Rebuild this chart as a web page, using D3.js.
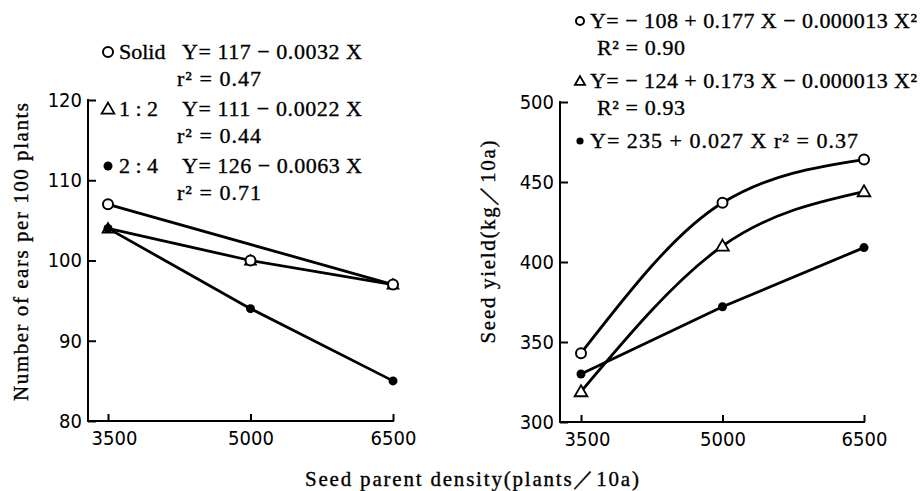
<!DOCTYPE html>
<html>
<head>
<meta charset="utf-8">
<script src="https://cdn.jsdelivr.net/npm/d3@7"></script>
<style>
  body { margin: 0; background: #fff; }
  text { fill: #000; }
</style>
</head>
<body>
<div id="root"></div>
<script>
// seed parent density (plants / 10a)
const density = [3500, 5000, 6500];

// left panel: number of ears per 100 plants
const earsSolid = [107, 100, 97];
const ears12 = [104, 100, 97];
const ears24 = [104, 94, 85];
const earsTicks = [80, 90, 100, 110, 120];

// right panel: seed yield (kg / 10a)
const yieldSolid = [343, 437, 464];
const yield12 = [319, 410, 444];
const yield24 = [330, 372, 409];
const yieldTicks = [300, 350, 400, 450, 500];

// legend texts
const earsLegend = [
  { mark: "open", name: "Solid", eq: "Y= 117 − 0.0032 X", fit: "r² = 0.47" },
  { mark: "tri", name: "1 : 2", eq: "Y= 111 − 0.0022 X", fit: "r² = 0.44" },
  { mark: "dot", name: "2 : 4", eq: "Y= 126 − 0.0063 X", fit: "r² = 0.71" },
];
const yieldLegend = [
  { mark: "open", eq: "Y=  − 108 + 0.177 X − 0.000013 X²", fit: "R² = 0.90" },
  { mark: "tri", eq: "Y=  − 124 + 0.173 X − 0.000013 X²", fit: "R² = 0.93" },
  { mark: "dot", eq: "Y=  235 + 0.027 X   r² = 0.37", fit: "" },
];

const width = 923;
const height = 491;
const tickFont = "'DejaVu Sans Condensed', 'Liberation Sans', sans-serif";
const serif = "'Liberation Serif', 'DejaVu Serif', serif";

const svg = d3
  .select("#root")
  .append("svg")
  .attr("width", width)
  .attr("height", height)
  .attr("viewBox", `0 0 ${width} ${height}`);

function drawMark(g, type, x, y, s = 1) {
  if (type === "open") {
    g.append("circle")
      .attr("cx", x).attr("cy", y).attr("r", 5 * s)
      .attr("fill", "#fff").attr("stroke", "#000").attr("stroke-width", 2);
  } else if (type === "dot") {
    g.append("circle")
      .attr("cx", x).attr("cy", y).attr("r", 4.5 * s)
      .attr("fill", "#000");
  } else {
    g.append("path")
      .attr("d", d3.symbol(d3.symbolTriangle).size(70 * s * s)())
      .attr("transform", `translate(${x}, ${y + 1})`)
      .attr("fill", "#fff").attr("stroke", "#000").attr("stroke-width", 1.8);
  }
}

function addText(g, x, y, str, size, len) {
  const t = g.append("text")
    .attr("x", x).attr("y", y)
    .attr("font-family", serif)
    .attr("font-size", size)
    .attr("stroke", "#000")
    .attr("stroke-width", 0.35)
    .text(str);
  if (len) t.attr("textLength", len).attr("lengthAdjust", "spacing");
  return t;
}

function drawAxes(g, x, y, axisX, yTicks) {
  const [y0, y1] = y.range();
  // y axis, ticks pointing inward
  const leftAxis = d3.axisLeft(y).tickValues(yTicks).tickSize(-8).tickPadding(6)
    .tickFormat(d3.format("d"));
  const gy = g.append("g").attr("transform", `translate(${axisX}, 0)`).call(leftAxis);
  gy.select(".domain").remove();
  gy.selectAll("line").attr("stroke-width", 2);
  gy.selectAll("text")
    .attr("font-family", tickFont)
    .attr("font-size", 20);
  g.append("line")
    .attr("x1", axisX).attr("x2", axisX)
    .attr("y1", y1 - 1).attr("y2", y0)
    .attr("stroke", "#000").attr("stroke-width", 2);

  // x axis, ticks pointing up
  const bottomAxis = d3.axisBottom(x).tickValues(density).tickSize(-7).tickPadding(10)
    .tickFormat(d3.format("d"));
  const gx = g.append("g").attr("transform", `translate(0, ${y0})`).call(bottomAxis);
  gx.select(".domain").remove();
  gx.selectAll("line").attr("stroke-width", 2);
  gx.selectAll("text")
    .attr("font-family", tickFont)
    .attr("font-size", 20)
    .attr("dx", (d, i) => (i === 0 ? 6 : 0));
  g.append("line")
    .attr("x1", axisX - 1).attr("x2", x(6500) + 1)
    .attr("y1", y0).attr("y2", y0)
    .attr("stroke", "#000").attr("stroke-width", 2.2);
}

function drawLine(g, x, y, xs, ys, curve) {
  const line = d3.line().x((d) => x(d[0])).y((d) => y(d[1])).curve(curve);
  g.append("path")
    .datum(d3.zip(xs, ys))
    .attr("d", line)
    .attr("fill", "none")
    .attr("stroke", "#000")
    .attr("stroke-width", 2.8);
}

// ---------- left panel ----------
const left = svg.append("g");
const xL = d3.scaleLinear().domain([3500, 6500]).range([108, 393]);
const yL = d3.scaleLinear().domain([80, 120]).range([421, 100]);
drawAxes(left, xL, yL, 88, earsTicks);

// the Solid line runs straight between its end points in the original figure
drawLine(left, xL, yL, [density[0], density[2]], [earsSolid[0], earsSolid[2]], d3.curveLinear);
drawLine(left, xL, yL, density, ears12, d3.curveLinear);
drawLine(left, xL, yL, density, ears24, d3.curveLinear);
density.forEach((d, i) => drawMark(left, "tri", xL(d), yL(ears12[i]), 0.85));
density.forEach((d, i) => drawMark(left, "open", xL(d), yL(earsSolid[i])));
density.forEach((d, i) => drawMark(left, "dot", xL(d), yL(ears24[i])));

const legL = left.append("g");
earsLegend.forEach((r, i) => {
  const cy = 52 + i * 57;
  drawMark(legL, r.mark, 108, cy);
  addText(legL, 119, cy + 7, r.name, 22);
  addText(legL, 182, cy + 7, r.eq, 22, 180);
  addText(legL, 177, cy + 34, r.fit, 22, 84);
});

addText(left, 0, 0, "Number of ears per 100 plants", 21, 298)
  .attr("x", null).attr("y", null)
  .attr("transform", "translate(28, 252) rotate(-90)")
  .attr("text-anchor", "middle");

// ---------- right panel ----------
const right = svg.append("g");
const xR = d3.scaleLinear().domain([3500, 6500]).range([581, 864]);
const yR = d3.scaleLinear().domain([300, 500]).range([422, 102]);
drawAxes(right, xR, yR, 560, yieldTicks);

drawLine(right, xR, yR, density, yieldSolid, d3.curveMonotoneX);
drawLine(right, xR, yR, density, yield12, d3.curveMonotoneX);
drawLine(right, xR, yR, density, yield24, d3.curveLinear);
density.forEach((d, i) => drawMark(right, "tri", xR(d), yR(yield12[i])));
density.forEach((d, i) => drawMark(right, "open", xR(d), yR(yieldSolid[i])));
density.forEach((d, i) => drawMark(right, "dot", xR(d), yR(yield24[i])));

const legR = right.append("g");
const eqLen = [327, 327, 268];
yieldLegend.forEach((r, i) => {
  const cy = 21 + i * 60;
  drawMark(legR, r.mark, 580, cy, 0.8);
  addText(legR, 590, cy + 7, r.eq, 22, eqLen[i]);
  if (r.fit) addText(legR, 597, cy + 34, r.fit, 22, 88);
});

addText(right, 0, 0, "Seed yield(kg／10a)", 21, 203)
  .attr("x", null).attr("y", null)
  .attr("transform", "translate(495, 242) rotate(-90)")
  .attr("text-anchor", "middle");

// shared x title
addText(svg, 472, 486, "Seed parent density(plants／10a)", 21, 334)
  .attr("text-anchor", "middle");
</script>
</body>
</html>
